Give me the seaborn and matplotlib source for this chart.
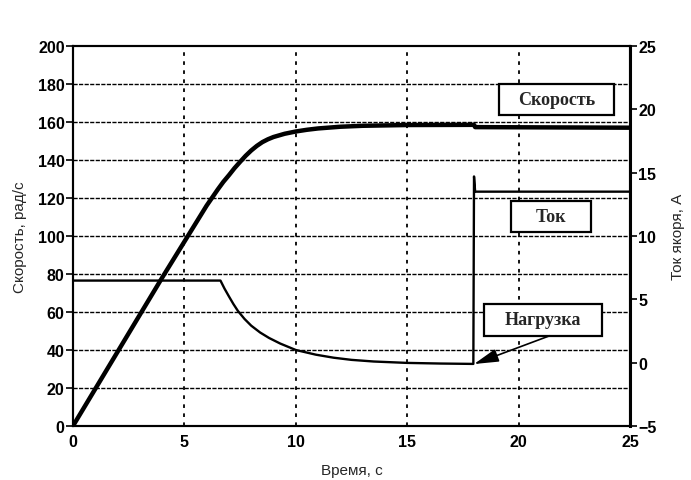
import matplotlib
matplotlib.use("Agg")
import matplotlib.pyplot as plt
import seaborn as sns
import pandas as pd
from matplotlib.patches import Rectangle

# ---- data ----
time_speed = [0, 1, 2, 3, 4, 5, 5.5, 6, 6.5, 6.75, 7, 7.25, 7.5, 7.75, 8, 8.25, 8.5, 8.75,
              9, 9.5, 10, 10.5, 11, 12, 13, 15, 18, 18.05, 25]
speed = [0, 19.5, 39, 58.5, 78, 97, 106.5, 116, 124.5, 128.5, 132, 135.7, 139, 142.2, 145,
         147.4, 149.4, 150.9, 152.1, 153.8, 155, 155.9, 156.6, 157.5, 158, 158.4, 158.5,
         157.3, 157]

time_current = [0, 6.62, 6.8, 7.0, 7.2, 7.4, 7.7, 8.0, 8.4, 8.8, 9.3, 10, 10.9, 11.7, 12.5,
                13.5, 15, 16.5, 17.97, 18.0, 18.05, 25]
current = [6.48, 6.48, 5.85, 5.23, 4.63, 4.09, 3.45, 2.92, 2.38, 1.95, 1.51, 1.0, 0.63, 0.39,
           0.22, 0.09, -0.02, -0.07, -0.1, 14.7, 13.5, 13.5]

x_ticks = [0, 5, 10, 15, 20, 25]
speed_ticks = [0, 20, 40, 60, 80, 100, 120, 140, 160, 180, 200]
current_ticks = [-5, 0, 5, 10, 15, 20, 25]

label_speed = "Скорость"
label_current = "Ток"
label_load = "Нагрузка"
xlabel = "Время, с"
ylabel_left = "Скорость, рад/с"
ylabel_right = "Ток якоря, А"

sns.set_style("white")
plt.rcParams["font.family"] = ["Liberation Sans", "DejaVu Sans"]

df_speed = pd.DataFrame({"t": time_speed, "v": speed})
df_cur = pd.DataFrame({"t": time_current, "i": current})

fig = plt.figure(figsize=(6.91, 4.81), dpi=100)
ax = fig.add_axes([0.1056, 0.1123, 0.8061, 0.79])
ax2 = ax.twinx()

sns.lineplot(data=df_speed, x="t", y="v", ax=ax, color="black", linewidth=3.2,
             sort=False, estimator=None, zorder=5)
sns.lineplot(data=df_cur, x="t", y="i", ax=ax2, color="black", linewidth=1.7,
             sort=False, estimator=None, zorder=5)

ax.set_xlim(0, 25)
ax.set_ylim(0, 200)
ax2.set_ylim(-5, 25)
ax.set_xticks(x_ticks)
ax.set_yticks(speed_ticks)
ax2.set_yticks(current_ticks)

# grid
for y in speed_ticks[1:-1]:
    ax.axhline(y, color="black", linestyle=(0, (3, 1)), linewidth=1.0, zorder=1)
for x in x_ticks[1:-1]:
    ax.axvline(x, color="black", linestyle=(0, (2, 3)), linewidth=1.3, zorder=1)

for a in (ax, ax2):
    for s in a.spines.values():
        s.set_color("black")
        s.set_linewidth(1.5)
ax2.spines["right"].set_linewidth(2.2)

ax.tick_params(axis="both", which="major", direction="out", length=5, width=1.2,
               colors="black", labelsize=11.5, pad=1)
ax2.tick_params(axis="y", direction="out", length=5, width=1.2, colors="black",
                labelsize=11.5, pad=1)
for lbl in ax.get_xticklabels() + ax.get_yticklabels() + ax2.get_yticklabels():
    lbl.set_fontweight("bold")

ax.set_xlabel(xlabel, fontsize=11, labelpad=10)
ax.set_ylabel(ylabel_left, fontsize=11, labelpad=8)
ax2.set_ylabel(ylabel_right, fontsize=11, labelpad=10)

# labelled boxes (in speed-axis data units)
serif = dict(family=["Liberation Serif", "DejaVu Serif"], weight="bold", size=13)

def box(x0, x1, y0, y1, text):
    ax.add_patch(Rectangle((x0, y0), x1 - x0, y1 - y0, facecolor="white",
                           edgecolor="black", linewidth=1.6, zorder=6))
    ax.text((x0 + x1) / 2, (y0 + y1) / 2, text, ha="center", va="center",
            zorder=7, **serif)

box(19.13, 24.28, 163.7, 180, label_speed)
box(19.65, 23.26, 102, 118.2, label_current)
box(18.46, 23.76, 47.5, 64.2, label_load)

ax.annotate("", xy=(18.0, 32.6), xytext=(21.4, 47.5),
            arrowprops=dict(arrowstyle="-|>,head_length=1.5,head_width=0.4",
                            color="black", lw=1.2, shrinkA=0, shrinkB=0),
            zorder=8)

ax.set_zorder(ax2.get_zorder() + 1)
ax.patch.set_visible(False)

fig.savefig("out.png", dpi=100)
